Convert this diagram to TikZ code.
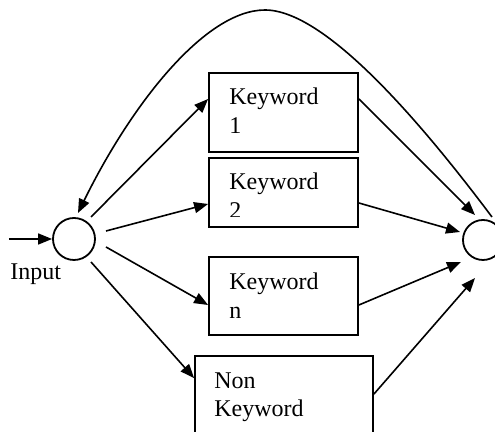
\documentclass[tikz,border=0pt]{standalone}
\usepackage{fontspec}
\setmainfont{Liberation Serif}
\usetikzlibrary{calc,arrows.meta}
\begin{document}
\begin{tikzpicture}[x=0.5pt,y=-0.5pt,
  circ/.style={draw,circle,line width=0.9pt,inner sep=0pt},
  boxnode/.style={draw,rectangle,line width=0.9pt,inner sep=0pt},
  txt/.style={anchor=base west,inner sep=0pt,font=\fontsize{12}{14}\selectfont},
  arr/.style={line width=0.8pt,-{Triangle[length=7pt,width=5.5pt]}}]
\useasboundingbox (0,0) rectangle (495,432);
\clip (0,0) rectangle (495,432);
% circles
\node[circ,minimum size=21pt] (in) at (74,239) {};
\node[circ,minimum size=20pt] (out) at (483,240) {};
% boxes
\node[boxnode,minimum width=74.5pt,minimum height=39.5pt] (kw1) at (283.5,112.5) {};
\node[boxnode,minimum width=74.5pt,minimum height=34.5pt] (kw2) at (283.5,192.5) {};
\node[boxnode,minimum width=74.5pt,minimum height=39pt] (kwn) at (283.5,296) {};
\node[boxnode,minimum width=89pt,minimum height=52pt] (nk) at (284,408) {};
% texts
\node[txt] (t1a) at (229,105) {Keyword};
\node[txt] (t1b) at (229,134) {1};
\node[txt] (t2a) at (229,190) {Keyword};
\begin{scope}
\clip (209,158) rectangle (358,216.5);
\node[txt] (t2b) at (229,219) {2};
\end{scope}
\node[txt] (tna) at (229,290) {Keyword};
\node[txt] (tnb) at (229,319) {n};
\node[txt] (tka) at (214,389) {Non};
\node[txt] (tkb) at (214,417) {Keyword};
\node[txt] (inlabel) at (10,280) {Input};
% input arrow
\coordinate (src) at (9,239);
\draw[arr] (src) -- (in.west);
% from input circle to boxes
\draw[arr] ($(in)+(17,-22)$) -- ($(kw1.west)+(0,-13.5)$);
\draw[arr] ($(in)+(32,-8)$) -- ($(kw2.west)+(0,11.5)$);
\draw[arr] ($(in)+(32,8)$) -- ($(kwn.west)+(0,9)$);
\draw[arr] ($(in)+(17,23)$) -- ($(nk.north west)+(0,23)$);
% from boxes to output circle
\draw[arr] ($(kw1.east)+(0,-13.5)$) -- ($(out)+(-8,-25)$);
\draw[arr] ($(kw2.east)+(0,10.5)$) -- ($(out)+(-23,-8)$);
\draw[arr] ($(kwn.east)+(0,9)$) -- ($(out)+(-22,22)$);
\draw[arr] ($(nk.north east)+(0,39)$) -- ($(out)+(-8,38)$);
% feedback curve
\coordinate (peak) at (265,10);
\draw[arr] ($(out)+(9,-23)$) .. controls ($(out)+(-63,-119)$) and (325,10) .. (peak)
  .. controls (205,10) and (131,105) .. ($(in)+(4,-26)$);
\end{tikzpicture}
\end{document}
